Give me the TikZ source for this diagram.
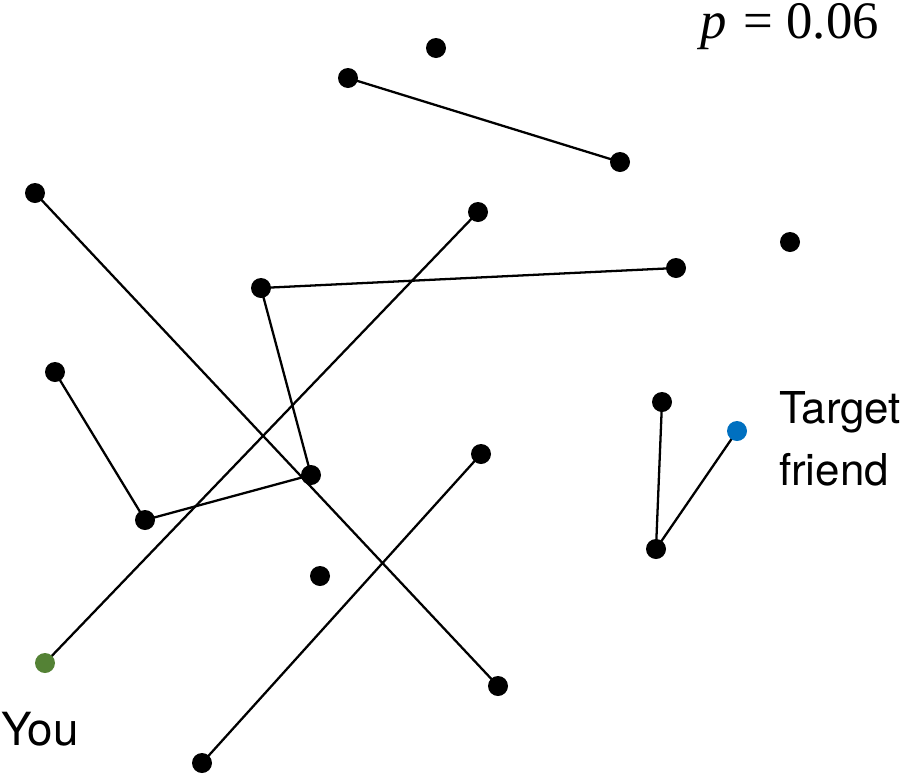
\documentclass[tikz,border=0pt]{standalone}
\usepackage{fontspec}
\setmainfont{TeX Gyre Heros}
\newfontfamily\mathlike{Liberation Serif}
\definecolor{youGreen}{RGB}{84,130,53}
\definecolor{targetBlue}{RGB}{0,112,192}

\begin{document}
\begin{tikzpicture}[x=0.02cm,y=-0.02cm,line width=1.3pt]
  \useasboundingbox (0,0) rectangle (907,778);
  \coordinate (A) at (436,48);
  \coordinate (B) at (348,78);
  \coordinate (C) at (620,162);
  \coordinate (D) at (35,193);
  \coordinate (E) at (478,212);
  \coordinate (F) at (790,242);
  \coordinate (G) at (676,268);
  \coordinate (H) at (261,288);
  \coordinate (I) at (55,372);
  \coordinate (J) at (662,402);
  \coordinate (T) at (737,431);
  \coordinate (K) at (481,454);
  \coordinate (L) at (311,475);
  \coordinate (M) at (145,520);
  \coordinate (N) at (656,549);
  \coordinate (P) at (320,576);
  \coordinate (Y) at (45,663);
  \coordinate (Q) at (498,686);
  \coordinate (R) at (202,763);
  \draw (B)--(C);
  \draw (D)--(Q);
  \draw (E)--(Y);
  \draw (G)--(H)--(L)--(M)--(I);
  \draw (J)--(N)--(T);
  \draw (K)--(R);
  \foreach \p in {A,B,C,D,E,F,G,H,I,J,K,L,M,N,P,Q,R}
    \fill (\p) circle(10);
  \fill[youGreen] (Y) circle(10);
  \fill[targetBlue] (T) circle(10);
  \node[anchor=base west,inner sep=0pt,font=\fontsize{26}{34}\selectfont] (you) at (0,745) {You};
  \node[anchor=base west,inner sep=0pt,align=left,font=\fontsize{25}{35}\selectfont] (target) at (778,485) {Target\\friend};
  \node[anchor=base east,inner sep=0pt,font=\mathlike\fontsize{30}{36}\selectfont] (prob) at (880,38) {\textit{p}\hspace{2pt} = 0.06};
\end{tikzpicture}
\end{document}
